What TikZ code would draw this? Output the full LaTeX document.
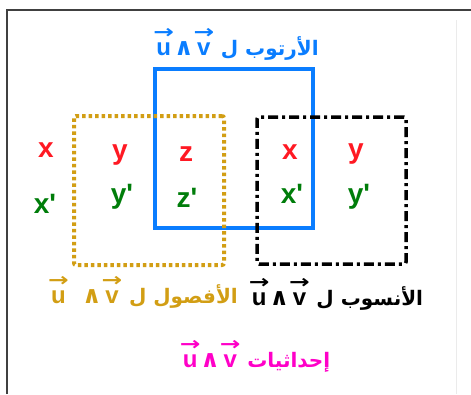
\documentclass[tikz,border=0pt]{standalone}
\usepackage{graphicx}
\usepackage{fontspec}
\setmainfont{Liberation Sans}
\newfontfamily\arabicfont[Script=Arabic]{DejaVu Sans}
\newfontfamily\symfont{DejaVu Sans}
\TeXXeTstate=1
\definecolor{cblue}{RGB}{10,125,255}
\definecolor{cgold}{RGB}{210,158,20}
\definecolor{cred}{RGB}{255,25,35}
\definecolor{cgreen}{RGB}{0,125,10}
\definecolor{cmag}{RGB}{255,0,200}
\newcommand\vecl[1]{\leavevmode\vbox{\offinterlineskip\halign{\hfil##\hfil\cr
  \scalebox{1.45}[1.1]{\symfont\bfseries\fontsize{17}{17}\selectfont →}\cr\noalign{\kern4pt}#1\cr}}}
\newcommand\wedg{{\symfont\bfseries ∧}}
\newcommand\uvw{\vecl{u}\wedg\vecl{v}}
\newcommand\pr{\textquotesingle}
\tikzset{
  lett/.style={font=\fontsize{28}{30}\selectfont\bfseries, anchor=base, inner sep=0pt},
  redl/.style={lett, text=cred},
  greenl/.style={lett, text=cgreen},
  lab/.style={font=\fontsize{24}{26}\selectfont\bfseries, anchor=base, inner sep=0pt},
  boxn/.style={inner sep=0pt, outer sep=0pt},
}
\newcommand\arab[1]{{\arabicfont\fontsize{20}{22}\selectfont\beginR #1\endR}}
\begin{document}
\begin{tikzpicture}[x=1pt,y=-1pt]
\useasboundingbox (0,0) rectangle (471,394);
% frame
\draw[line width=1.6pt, black!75] (7,394) -- (7,10) -- (471,10);
\draw[line width=0.6pt, black!8] (456,20) -- (456,394);
% boxes
\node[boxn, draw=cblue, line width=4pt, minimum width=158pt, minimum height=159pt] (ord) at (234,148.5) {};
\node[boxn, draw=cgold, line width=4pt, dash pattern=on 3.5pt off 3pt, rounded corners=2pt, minimum width=150pt, minimum height=149pt] (abs) at (149,190.5) {};
\node[boxn, draw=black, line width=3.5pt, dash pattern=on 10pt off 4pt on 3pt off 4pt, rounded corners=2pt, minimum width=149pt, minimum height=147pt] (cot) at (331.5,190.5) {};
% letters
\node[redl] (x1) at (46,157) {x};
\node[redl] (y1) at (120,159) {y};
\node[redl] (z1) at (186,161) {z};
\node[redl] (x2) at (290,159) {x};
\node[redl] (y2) at (356,158) {y};
\node[greenl] (x1p) at (45,213) {x\pr};
\node[greenl] (y1p) at (122,203) {y\pr};
\node[greenl] (z1p) at (187,207) {z\pr};
\node[greenl] (x2p) at (292,203) {x\pr};
\node[greenl] (y2p) at (359,203) {y\pr};
% labels
\node[lab, text=cblue] (lord) at (236,55) {\uvw\ \arab{الأرتوب ل}};
\node[lab, text=cgold] (labs) at (143,303) {\vecl{u}\ \ \wedg\vecl{v}\ \arab{الأفصول ل}};
\node[lab, text=black] (lcot) at (336,305) {\uvw\ \arab{الأنسوب ل}};
\node[lab, text=cmag] (lco) at (255,367) {\uvw\ \arab{إحداثيات}};
\end{tikzpicture}
\end{document}
